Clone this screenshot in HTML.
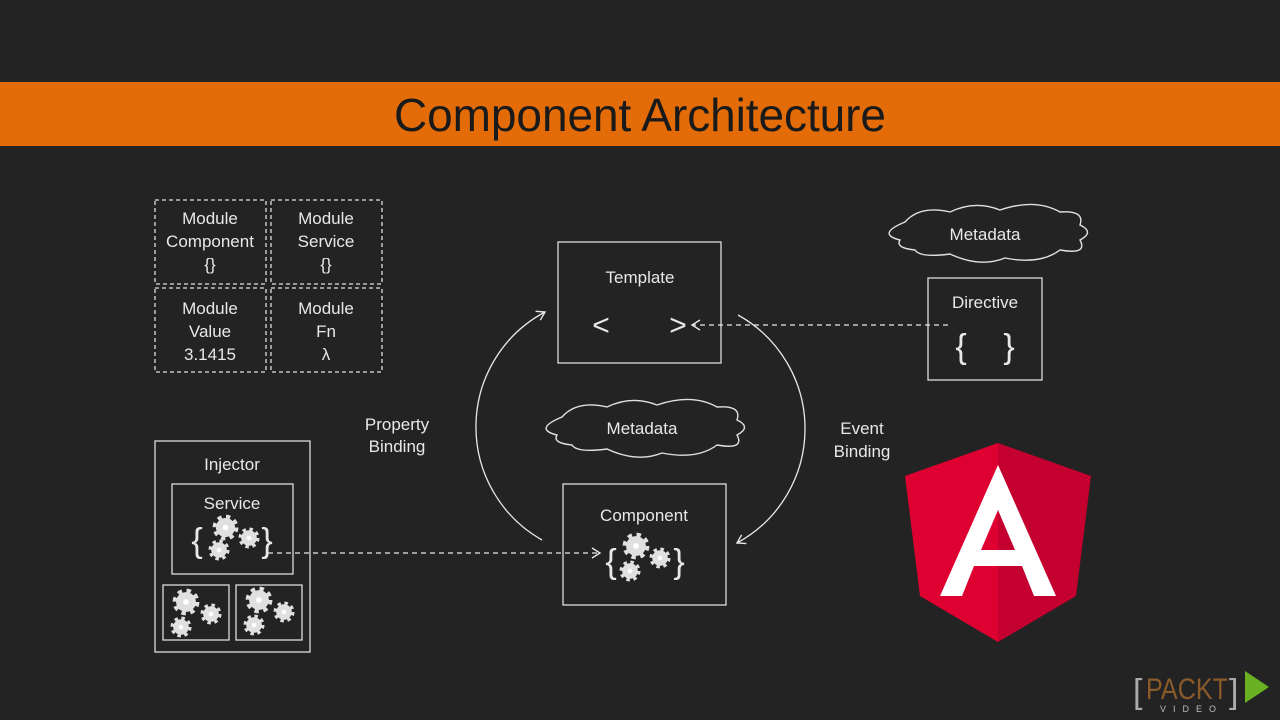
<!DOCTYPE html>
<html><head><meta charset="utf-8"><style>
html,body{margin:0;padding:0;background:#232323;}
svg{display:block}
text{font-family:"Liberation Sans",sans-serif;fill:#e8e8e8;}
</style></head><body>
<svg width="1280" height="720" viewBox="0 0 1280 720" xmlns="http://www.w3.org/2000/svg">
<defs>
<symbol id="g" viewBox="-12 -12 24 24" overflow="visible">
<circle r="8.5" fill="none" stroke="#e0e0e0" stroke-width="6" stroke-dasharray="3.3 3.4"/>
<circle r="8.5" fill="#e0e0e0"/>
<circle r="2.5" fill="#fff"/>
</symbol>
<marker id="ah" markerWidth="12" markerHeight="12" refX="10" refY="6" orient="auto" markerUnits="userSpaceOnUse">
<path d="M2,1 L10,6 L2,11" fill="none" stroke="#e8e8e8" stroke-width="1.4"/>
</marker>
</defs>
<rect width="1280" height="720" fill="#232323"/>
<rect x="0" y="82" width="1280" height="64" fill="#e36c09"/>
<text x="640" y="131" font-size="46" text-anchor="middle" textLength="492" style="fill:#1a1a1a">Component Architecture</text>

<g fill="none" stroke="#ddd" stroke-width="1.3" stroke-dasharray="4 3">
<rect x="155" y="200" width="111" height="84"/>
<rect x="271" y="200" width="111" height="84"/>
<rect x="155" y="288" width="111" height="84"/>
<rect x="271" y="288" width="111" height="84"/>
</g>
<g font-size="17" text-anchor="middle">
<text x="210" y="224">Module</text><text x="210" y="247">Component</text><text x="210" y="270">{}</text>
<text x="326" y="224">Module</text><text x="326" y="247">Service</text><text x="326" y="270">{}</text>
<text x="210" y="314">Module</text><text x="210" y="337">Value</text><text x="210" y="360">3.1415</text>
<text x="326" y="314">Module</text><text x="326" y="337">Fn</text><text x="326" y="360">λ</text>
</g>

<g fill="none" stroke="#ddd" stroke-width="1.3">
<rect x="558" y="242" width="163" height="121"/>
<rect x="928" y="278" width="114" height="102"/>
<rect x="563" y="484" width="163" height="121"/>
<rect x="155" y="441" width="155" height="211"/>
<rect x="172" y="484" width="121" height="90"/>
<rect x="163" y="585" width="66" height="55"/>
<rect x="236" y="585" width="66" height="55"/>
</g>
<text x="640" y="283" font-size="17" text-anchor="middle">Template</text>
<text x="601" y="335" font-size="30" text-anchor="middle">&lt;</text>
<text x="678" y="335" font-size="30" text-anchor="middle">&gt;</text>
<text x="985" y="308" font-size="17" text-anchor="middle">Directive</text>
<text x="961" y="358" font-size="34" text-anchor="middle">{</text>
<text x="1009" y="358" font-size="34" text-anchor="middle">}</text>
<text x="644" y="521" font-size="17" text-anchor="middle">Component</text>
<text x="232" y="470" font-size="17" text-anchor="middle">Injector</text>
<text x="232" y="509" font-size="17" text-anchor="middle">Service</text>
<text x="397" y="430" font-size="17" text-anchor="middle">Property</text>
<text x="397" y="452" font-size="17" text-anchor="middle">Binding</text>
<text x="862" y="434" font-size="17" text-anchor="middle">Event</text>
<text x="862" y="457" font-size="17" text-anchor="middle">Binding</text>

<text x="197" y="552" font-size="34" text-anchor="middle">{</text>
<text x="267" y="552" font-size="34" text-anchor="middle">}</text>
<use href="#g" x="212" y="514" width="27" height="27"/>
<use href="#g" x="238" y="527" width="22" height="22"/>
<use href="#g" x="208" y="539" width="22" height="22"/>
<text x="611" y="573" font-size="34" text-anchor="middle">{</text>
<text x="679" y="573" font-size="34" text-anchor="middle">}</text>
<use href="#g" x="622" y="532" width="28" height="28"/>
<use href="#g" x="649" y="547" width="22" height="22"/>
<use href="#g" x="619" y="560" width="22" height="22"/>
<use href="#g" x="172" y="588" width="28" height="28"/>
<use href="#g" x="200" y="603" width="22" height="22"/>
<use href="#g" x="170" y="616" width="22" height="22"/>
<use href="#g" x="245" y="586" width="28" height="28"/>
<use href="#g" x="273" y="601" width="22" height="22"/>
<use href="#g" x="243" y="614" width="22" height="22"/>

<g fill="none" stroke="#e8e8e8" stroke-width="1.3">
<path d="M268,553 L600,553" stroke-dasharray="5 4" marker-end="url(#ah)"/>
<path d="M948,325 L692,325" stroke-dasharray="5 4" marker-end="url(#ah)"/>
<path d="M542,540 A130,130 0 0 1 545,312" marker-end="url(#ah)"/>
<path d="M738,315 A130,130 0 0 1 737,543" marker-end="url(#ah)"/>
</g>

<g fill="none" stroke="#e0e0e0" stroke-width="1.4">
<path d="M905,222 Q920,205 950,212 Q975,200 1000,210 Q1035,198 1060,212 Q1085,210 1080,225 Q1095,232 1080,240 Q1088,255 1060,250 Q1040,265 1005,258 Q980,268 950,254 Q920,258 915,250 Q895,248 900,240 Q876,234 905,222 Z"/>
<path d="M562,417 Q577,400 607,407 Q632,395 657,405 Q692,393 717,407 Q742,405 737,420 Q752,427 737,435 Q745,450 717,445 Q697,460 662,453 Q637,463 607,449 Q577,453 572,445 Q552,443 557,435 Q533,429 562,417 Z"/>
</g>
<text x="985" y="240" font-size="17" text-anchor="middle">Metadata</text>
<text x="642" y="434" font-size="17" text-anchor="middle">Metadata</text>

<path d="M998,443 L905,476 L920,596 L998,642 Z" fill="#dd0031"/>
<path d="M998,443 L1091,476 L1076,596 L998,642 Z" fill="#c3002f"/>
<path d="M998,465 L940,596 L962,596 L974,566 L1022,566 L1034,596 L1056,596 Z M998,510 L1015,550 L981,550 Z" fill="#fff" fill-rule="evenodd"/>

<text x="1133" y="703" font-size="34" style="fill:#aaa">[</text>
<text x="1146" y="699" font-size="30" textLength="82" lengthAdjust="spacingAndGlyphs" style="fill:#8a5a2a">PACKT</text>
<text x="1229" y="703" font-size="34" style="fill:#aaa">]</text>
<text x="1160" y="712" font-size="9" letter-spacing="7" style="fill:#bbb">VIDEO</text>
<path d="M1245,671 L1269,687 L1245,703 Z" fill="#6ab023"/>
</svg>
</body></html>
